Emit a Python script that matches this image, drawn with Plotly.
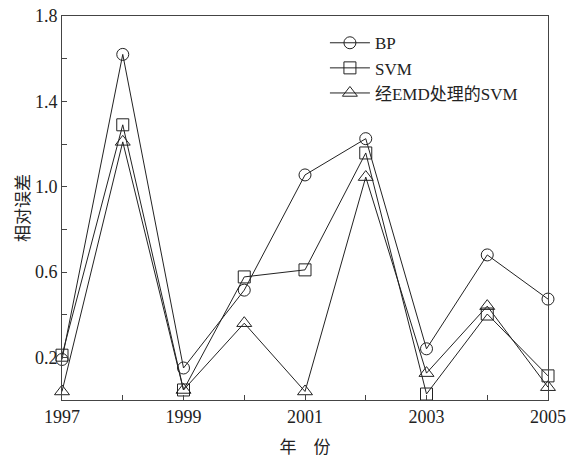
import plotly.graph_objects as go

years = [1997, 1998, 1999, 2000, 2001, 2002, 2003, 2004, 2005]
bp = [0.19, 1.62, 0.15, 0.515, 1.055, 1.225, 0.24, 0.68, 0.473]
svm = [0.21, 1.29, 0.047, 0.577, 0.61, 1.158, 0.028, 0.403, 0.113]
emd_svm = [0.04, 1.21, 0.047, 0.36, 0.04, 1.045, 0.126, 0.44, 0.06]
names = ["BP", "SVM", "经EMD处理的SVM"]
symbols = ["circle-open", "square-open", "triangle-up-open"]
sizes = [12, 12, 13]
x_ticktext = ["1997", "", "1999", "", "2001", "", "2003", "", "2005"]
y_tickvals = [0.2, 0.4, 0.6, 0.8, 1.0, 1.2, 1.4, 1.6, 1.8]
y_ticktext = ["0.2", "", "0.6", "", "1.0", "", "1.4", "", "1.8"]

serif = "'Liberation Serif', 'Noto Sans CJK SC', serif"
cjk = "'Noto Sans CJK SC', sans-serif"
fig = go.Figure()
for name, ys, sym, sz in zip(names, [bp, svm, emd_svm], symbols, sizes):
    fig.add_trace(go.Scatter(
        x=years, y=ys, mode="lines+markers", name=name,
        line=dict(color="#222", width=1),
        marker=dict(symbol=sym, size=sz, color="#222", line=dict(width=1, color="#222")),
        cliponaxis=False,
    ))

fig.update_layout(
    width=568, height=461,
    margin=dict(l=62, r=20, t=16, b=61),
    paper_bgcolor="white", plot_bgcolor="white",
    font=dict(family=serif, size=18, color="#222"),
    showlegend=True,
    legend=dict(x=0.541, y=0.976, xanchor="left", yanchor="top",
                bgcolor="rgba(0,0,0,0)", font=dict(family=serif, size=17),
                tracegroupgap=0, itemwidth=40),
    xaxis=dict(
        range=[1997, 2005], tickmode="array",
        tickvals=years, ticktext=x_ticktext,
        ticks="inside", ticklen=5, tickcolor="#444",
        showline=True, linecolor="#444", linewidth=1, mirror=True,
        showgrid=False, zeroline=False, automargin=False,
        ticklabeloverflow="allow",
        tickfont=dict(family=serif, size=18),
        title=dict(text="年　份", font=dict(family=cjk, size=17), standoff=15),
    ),
    yaxis=dict(
        range=[0, 1.8], tickmode="array",
        tickvals=y_tickvals, ticktext=y_ticktext,
        ticks="inside", ticklen=5, tickcolor="#444",
        showline=True, linecolor="#444", linewidth=1, mirror=True,
        showgrid=False, zeroline=False, automargin=False,
        ticklabeloverflow="allow",
        tickfont=dict(family=serif, size=18),
        title=dict(text="相对误差", font=dict(family=cjk, size=17), standoff=0),
    ),
)
fig.write_html(
    "out.html",
    config={"displayModeBar": False},
    post_script="document.body.style.margin='0';document.body.style.overflow='hidden';",
)
